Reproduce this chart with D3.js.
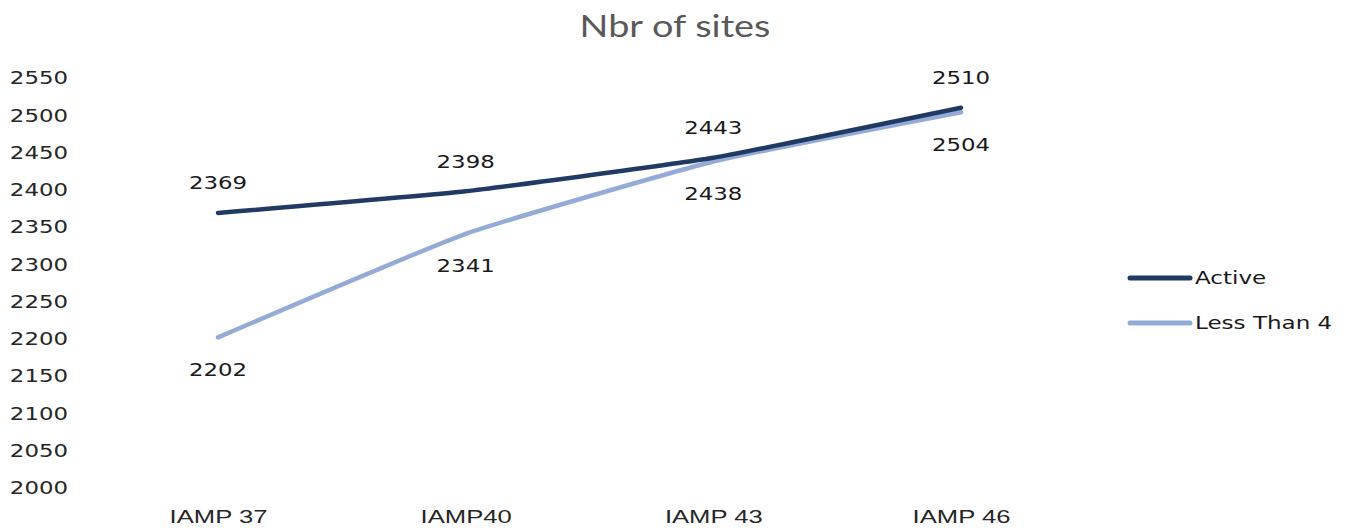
<!DOCTYPE html>
<html>
<head>
<meta charset="utf-8">
<script src="https://cdn.jsdelivr.net/npm/d3@7"></script>
<style>
  body { margin: 0; background: #fff; }
  svg { display: block; }
</style>
</head>
<body>
<svg id="chart" width="1347" height="532"></svg>
<script>
// data
var categories = ["IAMP 37", "IAMP40", "IAMP 43", "IAMP 46"];
var seriesNames = ["Active", "Less Than 4"];
var activeVals = [2369, 2398, 2443, 2510];
var lessVals = [2202, 2341, 2438, 2504];
var yTicks = [2000, 2050, 2100, 2150, 2200, 2250, 2300, 2350, 2400, 2450, 2500, 2550];

var colors = ["#203a63", "#93abd6"];
var SX = 1.27; // the picture is stretched sideways

var svg = d3.select("#chart");

var x = d3.scalePoint().domain(categories).range([218, 961]);
var y = d3.scaleLinear().domain([2000, 2550]).range([488, 78]);

// title
svg.append("text")
  .attr("transform", "translate(675,37) scale(1.22,1)")
  .attr("text-anchor", "middle")
  .style("font-family", "Lato, 'Open Sans', sans-serif")
  .style("font-size", "31px")
  .style("fill", "#595959")
  .text("Nbr of sites");

// y axis, labels only
var yAxis = svg.append("g")
  .attr("transform", "translate(68,0)")
  .call(d3.axisLeft(y).tickValues(yTicks).tickSize(0).tickPadding(0).tickFormat(d3.format("d")));
yAxis.select(".domain").remove();
yAxis.selectAll("text")
  .attr("transform", "scale(" + SX + ",1)")
  .attr("x", 0)
  .style("font-family", "'DejaVu Sans', sans-serif")
  .style("font-size", "18px")
  .style("fill", "#262626");

// x axis, labels only
var xAxis = svg.append("g")
  .attr("transform", "translate(0,506)")
  .call(d3.axisBottom(x).tickSize(0).tickPadding(0));
xAxis.select(".domain").remove();
xAxis.selectAll("text")
  .attr("transform", "scale(1.35,1)")
  .attr("y", 4)
  .style("font-family", "'Liberation Sans Narrow', 'Liberation Sans', sans-serif")
  .style("font-size", "19px")
  .style("fill", "#262626");

// lines
var line = d3.line()
  .x(function(d, i) { return x(categories[i]); })
  .y(function(d) { return y(d); })
  .curve(d3.curveCardinal.tension(0.6));

var allSeries = [activeVals, lessVals];
// draw the light line first so the dark one sits on top
[1, 0].forEach(function(k) {
  svg.append("path")
    .datum(allSeries[k])
    .attr("d", line)
    .style("fill", "none")
    .style("stroke", colors[k])
    .style("stroke-width", 4.5)
    .style("stroke-linecap", "round")
    .style("stroke-linejoin", "round");
});

// data labels: Active above, Less Than 4 below
function addLabels(vals, off) {
  svg.append("g").selectAll("g")
    .data(vals)
    .join("g")
    .attr("transform", function(d, i) { return "translate(" + x(categories[i]) + "," + (y(d) + off) + ")"; })
    .append("text")
    .attr("transform", "scale(" + SX + ",1)")
    .attr("text-anchor", "middle")
    .attr("dy", "0.35em")
    .style("font-family", "'DejaVu Sans', sans-serif")
    .style("font-size", "18px")
    .style("fill", "#1a1a1a")
    .text(function(d) { return d; });
}
addLabels(activeVals, -30);
addLabels(lessVals, 32);

// legend
var legend = svg.append("g").selectAll("g")
  .data(seriesNames)
  .join("g")
  .attr("transform", function(d, i) { return "translate(1130," + (278 + i * 45) + ")"; });
legend.append("line")
  .attr("x1", 0).attr("x2", 60)
  .style("stroke", function(d, i) { return colors[i]; })
  .style("stroke-width", 5)
  .style("stroke-linecap", "round");
legend.append("text")
  .attr("transform", "translate(65,0) scale(1.28,1)")
  .attr("dy", "0.35em")
  .style("font-family", "'DejaVu Sans', sans-serif")
  .style("font-size", "18px")
  .style("fill", "#1a1a1a")
  .text(function(d) { return d; });
</script>
</body>
</html>
